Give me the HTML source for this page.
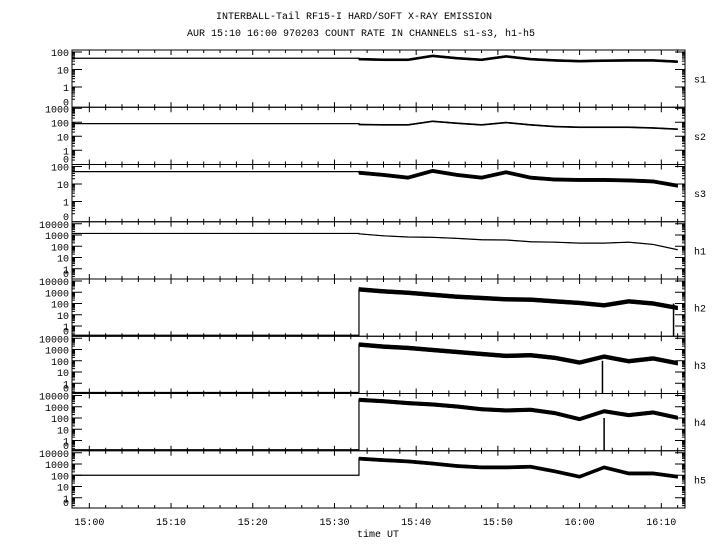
<!DOCTYPE html>
<html><head><meta charset="utf-8">
<style>
html,body{margin:0;padding:0;background:#fff;}
svg{display:block;}
text{font-family:"Liberation Mono",monospace;font-size:10px;fill:#000;}
</style></head>
<body>
<svg id="chart" width="720" height="550" viewBox="0 0 720 550" xmlns="http://www.w3.org/2000/svg">
<text x="354" y="19" text-anchor="middle">INTERBALL-Tail RF15-I HARD/SOFT X-RAY EMISSION</text>
<text x="361" y="36" text-anchor="middle">AUR 15:10 16:00 970203  COUNT RATE IN CHANNELS s1-s3, h1-h5</text>
<text x="378" y="537" text-anchor="middle">time UT</text>
<g id="plots"></g>
</svg>
<script>
// data (minutes after 15:00)
const channels = ["s1","s2","s3","h1","h2","h3","h4","h5"];
const times = [33,36,39,42,45,48,51,54,57,60,63,66,69,72];
const preValues = [44,80,51,1380,0,0,0,100];
const s1 = [39,36,36,60,44,36,56,39,33,30,32,33,33,28];
const s2 = [69,65,65,117,85,65,95,65,49,44,44,44,39,32];
const s3 = [44,33,23,56,33,23,47,23,18,17,17,16,14,8];
const h1 = [1260,850,660,620,500,380,360,250,230,190,190,230,145,49];
const h2 = [1800,1200,900,600,400,310,235,220,155,112,69,155,100,40];
const h3 = [2750,1800,1380,910,600,400,270,310,180,69,235,91,160,60];
const h4 = [4100,3100,2100,1600,1050,600,470,540,270,79,400,180,310,105];
const h5 = [3000,2200,1700,1100,660,500,500,570,220,74,500,145,145,74];
const spread = [1.15,1.1,1.25,1.03,1.5,1.5,1.45,1.4];
const dropTimes = [null,null,null,null,71.5,62.8,63.0,null];
const xTickLabels = ["15:00","15:10","15:20","15:30","15:40","15:50","16:00","16:10"];
const xTickMinutes = [0,10,20,30,40,50,60,70];

const series = [s1,s2,s3,h1,h2,h3,h4,h5];
const NS="http://www.w3.org/2000/svg";
const g=document.getElementById('plots');
const X0=72, X1=685, PT=50, PH=57.25;
const xMin=-2.12, xMax=72.9;
function xs(m){return X0+(m-xMin)/(xMax-xMin)*(X1-X0);}
const cfg=[[2,2,17.5],[3,1,14],[2,2,17.5],[4,2,11.25],[4,2,11.25],[4,2,11.25],[4,2,11.25],[4,2,11.25]];
function mk(tag,attrs){const e=document.createElementNS(NS,tag);for(const k in attrs)e.setAttribute(k,attrs[k]);return e;}
function yScale(i){const top=PT+i*PH,bot=top+PH;const [lt,off,dec]=cfg[i];
  return v=>{if(v<=0)return bot-1;const y=top+off+(lt-Math.log10(v))*dec;return Math.min(bot-1,Math.max(top,y));};}

for(let i=0;i<8;i++){
  const top=PT+i*PH,bot=top+PH,ys=yScale(i);const [lt,off,dec]=cfg[i];
  const pg=mk('g',{});
  
  
  g.appendChild(pg);
  const fr=mk('rect',{x:X0,y:top,width:X1-X0,height:PH,fill:'none',stroke:'#000','stroke-width':1});
  
  
  pg.appendChild(fr);
  for(let m=0;m<=72;m+=2){const major=m%10===0;const L=major?5:3;const x=xs(m);
    pg.appendChild(mk('line',{x1:x,y1:top,x2:x,y2:top+L,stroke:'#000'}));
    pg.appendChild(mk('line',{x1:x,y1:bot,x2:x,y2:bot-L,stroke:'#000'}));}
  for(let d=lt;d>=0;d--){
    for(let k=1;k<=9;k++){const v=Math.pow(10,d)*k; if(k>1&&d===lt)continue;
      const y=ys(v); if(y<top||y>bot)continue; const L=k===1?10:3;
      pg.appendChild(mk('line',{x1:X0,y1:y,x2:X0+L,y2:y,stroke:'#000'}));
      pg.appendChild(mk('line',{x1:X1,y1:y,x2:X1-L,y2:y,stroke:'#000'}));}
    if(d===0){for(let k=2;k<=9;k++){const yy=top+off+(lt+1-Math.log10(k))*dec; if(yy<bot){pg.appendChild(mk('line',{x1:X0,y1:yy,x2:X0+3,y2:yy,stroke:'#000'}));pg.appendChild(mk('line',{x1:X1,y1:yy,x2:X1-3,y2:yy,stroke:'#000'}));}}}
    const t=mk('text',{x:69,y:top+off+(lt-d)*dec+4,'text-anchor':'end'});
    
    
    t.textContent=String(Math.pow(10,d));pg.appendChild(t);}
  const z=mk('text',{x:69,y:bot-2,'text-anchor':'end'});
  
  
  z.textContent='0';pg.appendChild(z);
  const cl=mk('text',{x:694,y:top+PH/2+4});
  
  
  cl.textContent=channels[i];pg.appendChild(cl);
  const vals=series[i],sp=spread[i];
  let up=[],dn=[];
  times.forEach((t,j)=>{up.push(xs(t)+','+ys(vals[j]*sp));dn.unshift(xs(t)+','+ys(vals[j]/sp));});
  const band=mk('polygon',{points:up.concat(dn).join(' '),fill:'#000',stroke:'#000','stroke-width':0.5});
  
  
  pg.appendChild(band);
  let pts=[xs(xMin)+','+ys(preValues[i]),xs(times[0])+','+ys(preValues[i])];
  times.forEach((t,j)=>pts.push(xs(t)+','+ys(vals[j])));
  const ln=mk('polyline',{points:pts.join(' '),fill:'none',stroke:'#000','stroke-width':1.2});
  
  
  pg.appendChild(ln);
  if(dropTimes[i]!==null){const x=xs(dropTimes[i]);
    const dl=mk('line',{x1:x,y1:ys(100),x2:x,y2:bot,stroke:'#000','stroke-width':1.5});
    
    
    pg.appendChild(dl);}
}
xTickMinutes.forEach((m,j)=>{const t=mk('text',{x:xs(m),y:525,'text-anchor':'middle'});
  
  
  t.textContent=xTickLabels[j];g.appendChild(t);});
</script>
</body></html>
